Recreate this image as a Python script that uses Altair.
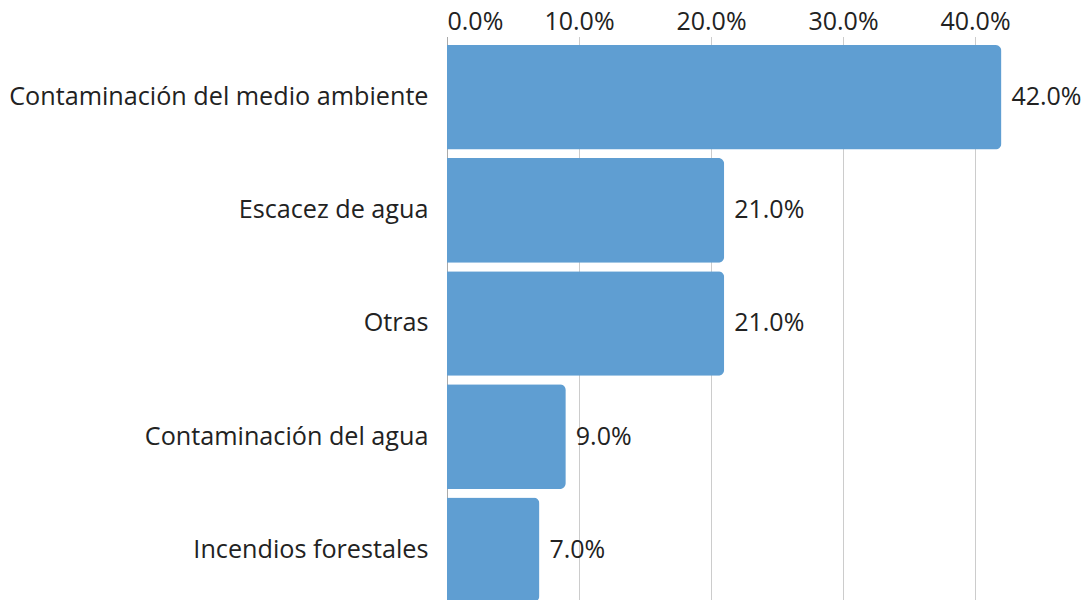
import altair as alt
import pandas as pd

categories = ["Contaminación del medio ambiente", "Escacez de agua", "Otras",
              "Contaminación del agua", "Incendios forestales"]
values = [0.42, 0.21, 0.21, 0.09, 0.07]
tick_values = [0.0, 0.10, 0.20, 0.30, 0.40]

df = pd.DataFrame({"cat": categories, "val": values})

FONT = "Open Sans"
FS_Y = 25.2
FS = 25

SVG_W = 1076
PAD_LEFT = 439
PAD_TOP = 28.5
PLOT_W = 594
PLOT_H = 565.5
PAD_RIGHT = SVG_W - PAD_LEFT - PLOT_W

x = alt.X("val:Q",
          scale=alt.Scale(domain=[0, 0.45], nice=False),
          axis=alt.Axis(orient="top", values=tick_values, format=".1%", title=None,
                        domain=False, ticks=False, labelPadding=7,
                        labelBaseline="alphabetic",
                        labelFontSize=FS, labelFont=FONT, labelColor="#222222",
                        grid=True, gridColor="#cccccc", gridWidth=1))
y = alt.Y("cat:N", sort=categories,
          scale=alt.Scale(paddingInner=0.075, paddingOuter=0.0375, align=1),
          axis=alt.Axis(title=None, ticks=False, domain=True, domainColor="#aaaaaa",
                        labelPadding=19, labelFontSize=FS_Y, labelFont=FONT,
                        labelColor="#222222", labelLimit=700, grid=False))

bars = alt.Chart(df).mark_bar(color="#5f9ed2", cornerRadiusEnd=6).encode(x=x, y=y)
text = alt.Chart(df).mark_text(align="left", baseline="middle", dx=10, fontSize=FS,
                               font=FONT, color="#222222").encode(
    x="val:Q", y=alt.Y("cat:N", sort=categories),
    text=alt.Text("val:Q", format=".1%"))

chart = (bars + text).properties(
    width=PLOT_W, height=PLOT_H,
    autosize=alt.AutoSizeParams(type="none"),
    padding={"top": PAD_TOP, "left": PAD_LEFT, "right": PAD_RIGHT, "bottom": 0},
).configure_view(stroke=None)
chart.save("out.html", embed_options={"renderer": "svg", "actions": False})
